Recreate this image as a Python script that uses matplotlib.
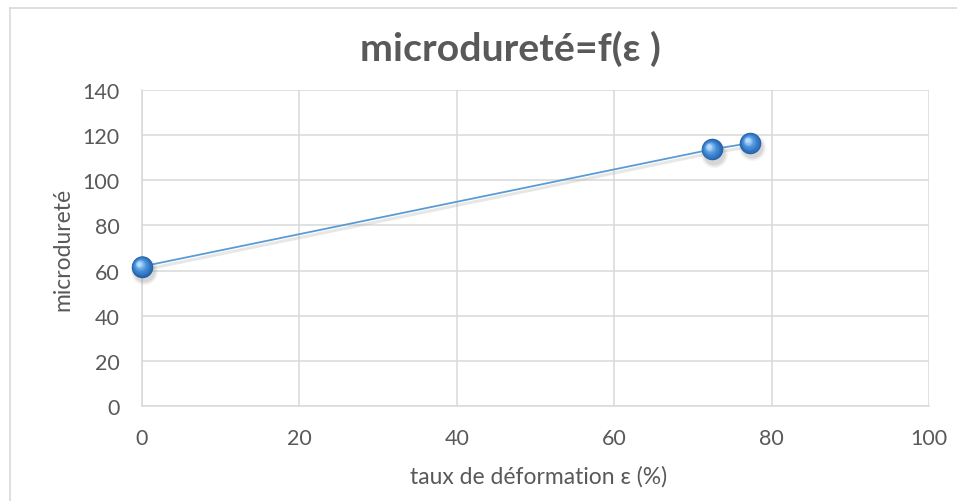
import matplotlib.pyplot as plt
import matplotlib.transforms as mtransforms
import numpy as np
from matplotlib.lines import Line2D

plt.rcParams['font.family'] = ['Lato', 'DejaVu Sans']

# taux de déformation (%) et microdureté mesurée
deformation = [0, 72.4, 77.3]
microdurete = [61.8, 113.7, 116.5]

x_ticks = [0, 20, 40, 60, 80, 100]
y_ticks = [0, 20, 40, 60, 80, 100, 120, 140]

TEXT_GRAY = '#595959'
GRID_GRAY = '#d9d9d9'
LINE_BLUE = '#5b9bd5'

fig = plt.figure(figsize=(9.57, 5.02), dpi=100)
ax = fig.add_axes([142 / 957, 95 / 502, 787 / 957, 316 / 502])

# cadre du graphique (gauche et haut)
fig.add_artist(Line2D([9.5 / 957, 9.5 / 957], [0, 493 / 502], color=GRID_GRAY, lw=1.2,
                      transform=fig.transFigure))
fig.add_artist(Line2D([9.5 / 957, 1], [493 / 502, 493 / 502], color=GRID_GRAY, lw=1.2,
                      transform=fig.transFigure))


def shifted(dx, dy):
    return mtransforms.offset_copy(ax.transData, fig=fig, x=dx, y=dy, units='points')


# ombre de la courbe
ax.plot(deformation, microdurete, color='#b0b0b0', lw=2.2, alpha=0.3,
        transform=shifted(0.5, -2.5), solid_capstyle='round', zorder=2)
ax.plot(deformation, microdurete, color=LINE_BLUE, lw=1.3, zorder=3)

# ombre des marqueurs
for size, alpha in [(19.5, 0.07), (17.5, 0.1), (15.5, 0.13)]:
    ax.plot(deformation, microdurete, 'o', ms=size, color='#707070', mec='none',
            alpha=alpha, transform=shifted(1.5, -3), zorder=4, clip_on=False)

# sphères : dégradé radial du bord foncé vers un reflet clair
n_layers = 16
dark = np.array([0x24, 0x62, 0xaa]) / 255
mid = np.array([0x45, 0x8e, 0xda]) / 255
light = np.array([0xb4, 0xdc, 0xfc]) / 255
full = 15.5
for i in range(n_layers):
    t = i / (n_layers - 1)
    size = full * (1 - 0.8 * t)
    if t < 0.5:
        col = dark + (mid - dark) * (t / 0.5)
    else:
        col = mid + (light - mid) * ((t - 0.5) / 0.5) ** 1.3
    ax.plot(deformation, microdurete, 'o', ms=size, color=col, mec='none',
            transform=shifted(-2.1 * t, 2.1 * t), zorder=5 + i * 0.01, clip_on=False)

ax.set_xlim(0, 100)
ax.set_ylim(0, 140)
ax.set_xticks(x_ticks)
ax.set_yticks(y_ticks)
ax.grid(True, color=GRID_GRAY, lw=1.1)
ax.set_axisbelow(True)
for side in ['top', 'right']:
    ax.spines[side].set_visible(False)
for side in ['left', 'bottom']:
    ax.spines[side].set_color(GRID_GRAY)
    ax.spines[side].set_linewidth(1.1)
ax.tick_params(length=0, colors=TEXT_GRAY, labelsize=15.5)
ax.tick_params(axis='x', pad=16)
ax.tick_params(axis='y', pad=16)

ax.set_xlabel('taux de déformation ε (%)', color=TEXT_GRAY, fontsize=16.5)
ax.set_ylabel('microdureté', color=TEXT_GRAY, fontsize=16.5)
ax.xaxis.set_label_coords(0.504, -0.2215)
ax.xaxis.label.set_va('center')
ax.yaxis.set_label_coords(-0.1004, 0.5)
ax.yaxis.label.set_va('center')
ax.yaxis.label.set_ha('center')

fig.text(0.533, 0.902, 'microdureté=f(ε )', ha='center', va='center', fontsize=28.3,
         fontweight='bold', color=TEXT_GRAY)

fig.savefig('out.png', dpi=100)
